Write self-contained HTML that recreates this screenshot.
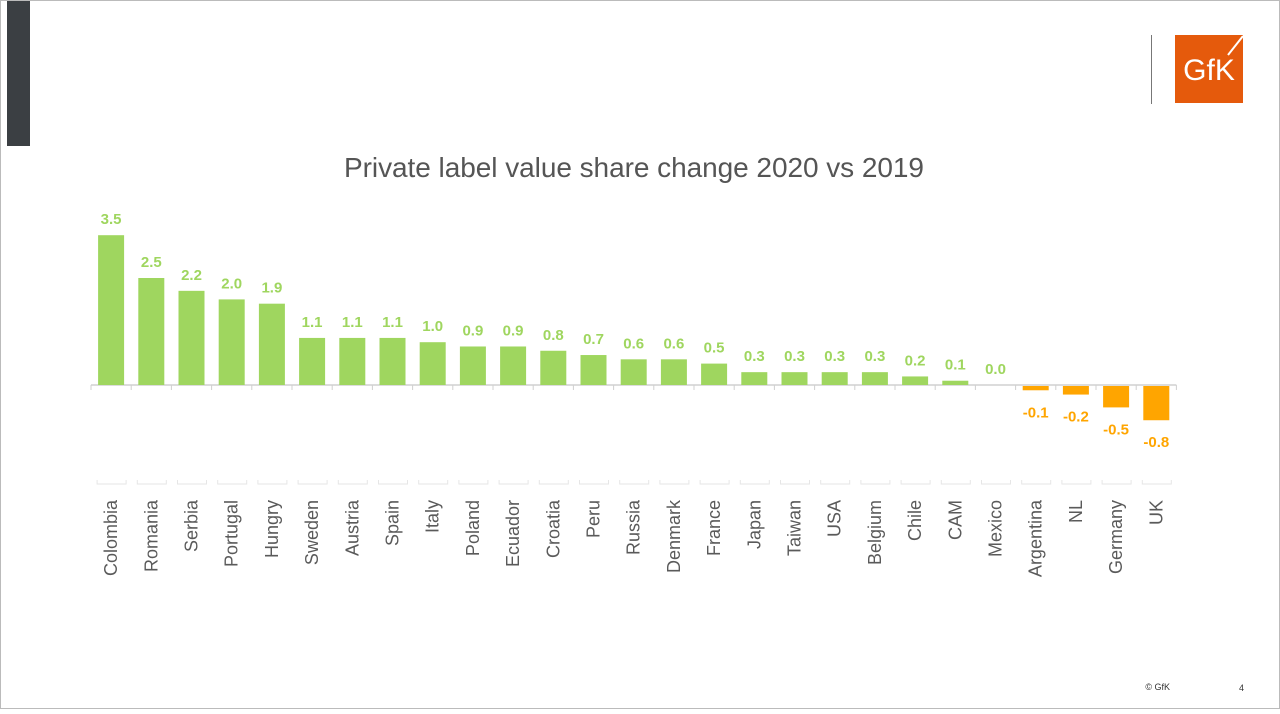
<!DOCTYPE html>
<html><head><meta charset="utf-8"><style>
body{margin:0;width:1280px;height:709px;overflow:hidden;background:#fff;font-family:"Liberation Sans",sans-serif}
</style></head><body>
<svg width="1280" height="709" xmlns="http://www.w3.org/2000/svg" font-family="Liberation Sans, sans-serif">
<rect x="0.5" y="0.5" width="1279" height="708" fill="#fff" stroke="#bbb"/>
<rect x="7" y="1" width="23" height="145" fill="#3b3f43"/>
<line x1="1151.5" y1="35" x2="1151.5" y2="104" stroke="#777" stroke-width="1"/>
<rect x="1175" y="35" width="68" height="68" fill="#e55a0c"/>
<text x="1209" y="80" fill="#fff" font-size="30" text-anchor="middle">GfK</text>
<line x1="1228" y1="55" x2="1243" y2="36" stroke="#fff" stroke-width="2"/>
<text x="634" y="177" fill="#555" font-size="28" text-anchor="middle" textLength="580">Private label value share change 2020 vs 2019</text>
<text x="1170" y="690" fill="#333" font-size="9" text-anchor="end">© GfK</text>
<text x="1244" y="691" fill="#333" font-size="9" text-anchor="end">4</text>
<g id="c"></g>
</svg>
<script>
const d=[["Colombia",3.5],["Romania",2.5],["Serbia",2.2],["Portugal",2.0],["Hungry",1.9],["Sweden",1.1],["Austria",1.1],["Spain",1.1],["Italy",1.0],["Poland",0.9],["Ecuador",0.9],["Croatia",0.8],["Peru",0.7],["Russia",0.6],["Denmark",0.6],["France",0.5],["Japan",0.3],["Taiwan",0.3],["USA",0.3],["Belgium",0.3],["Chile",0.2],["CAM",0.1],["Mexico",0.0],["Argentina",-0.1],["NL",-0.2],["Germany",-0.5],["UK",-0.8]];
const x0=91,sp=40.2,y0=385,k=42.8;let s='';
s+=`<line x1="${x0}" y1="${y0}" x2="${x0+27*sp}" y2="${y0}" stroke="#d0d0d0" stroke-width="1.5"/>`;
for(let i=0;i<=27;i++){const x=x0+i*sp;s+=`<line x1="${x}" y1="${y0}" x2="${x}" y2="${y0+5}" stroke="#d0d0d0"/>`;}
d.forEach(([n,v],i)=>{const cx=x0+sp*(i+0.5);const h=Math.abs(v)*k;const c=v>=0?'#9fd65f':'#ffa500';
const y=v>=0?y0-h:y0+1;
if(h>0)s+=`<rect x="${cx-13}" y="${y}" width="26" height="${h}" fill="${c}"/>`;
const ly=v>=0?y0-h-11:y0+h+28;
s+=`<text x="${cx}" y="${ly}" fill="${c}" font-size="15" text-anchor="middle" font-weight="bold">${v.toFixed(1)}</text>`;
s+=`<path d="M${cx-14} 480V484H${cx+15}V480" fill="none" stroke="#e6e6e6" stroke-width="1"/>`;
s+=`<text transform="translate(${cx+6},500) rotate(-90)" fill="#5a5a5a" font-size="18" text-anchor="end">${n}</text>`;});
document.getElementById('c').innerHTML=s;
</script>
</body></html>
